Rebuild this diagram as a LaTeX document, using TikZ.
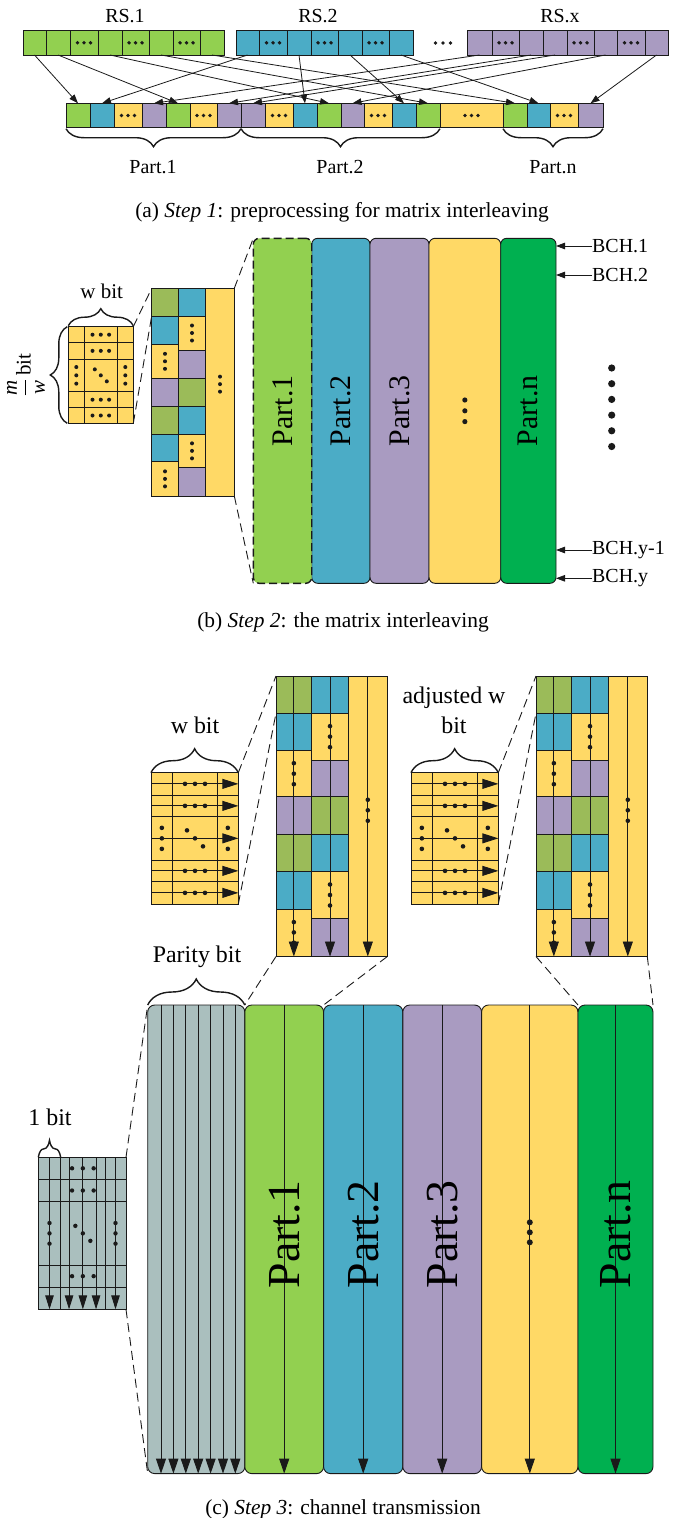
\documentclass[tikz,border=0pt]{standalone}
\usepackage{fontspec}
\setmainfont{Liberation Serif}
\usetikzlibrary{arrows.meta,decorations.pathreplacing}
\definecolor{cg}{HTML}{92D050}
\definecolor{cb}{HTML}{4BACC6}
\definecolor{cp}{HTML}{A99BC1}
\definecolor{cy}{HTML}{FFD966}
\definecolor{cd}{HTML}{00B050}
\definecolor{co}{HTML}{9BBB59}
\definecolor{cgr}{HTML}{AABFBE}
\definecolor{ln}{HTML}{1A1A1A}
\tikzset{
 cellst/.style={draw=ln,line width=0.9bp,inner sep=0pt,outer sep=0pt,anchor=north west},
 arr/.style={draw=ln,line width=0.8bp,-{Triangle[length=9bp,width=6.5bp]}},
 harr/.style={draw=ln,line width=0.9bp,-{Triangle[length=16bp,width=10bp]}},
 varr/.style={draw=ln,line width=0.9bp,-{Triangle[length=15bp,width=10bp]}},
 sarr/.style={draw=ln,line width=0.9bp,-{Triangle[length=14bp,width=8.5bp]}},
 brc/.style={draw=ln,line width=1.4bp,decorate},
 dsh/.style={draw=ln,line width=0.9bp,dash pattern=on 9bp off 5bp},
 bigcol/.style={draw=ln,line width=0.9bp,rounded corners=6bp,inner sep=0pt,outer sep=0pt,anchor=north west},
 lbl/.style={inner sep=0pt,font=\fontsize{20}{24}\selectfont},
 lblc/.style={inner sep=0pt,font=\fontsize{24}{29}\selectfont,align=center},
 captxt/.style={inner sep=0pt,font=\fontsize{21.5}{26}\selectfont},
 rtxt/.style={rotate=90,inner sep=0pt,font=\fontsize{30}{30}\selectfont},
 rtxtc/.style={rotate=90,inner sep=0pt,font=\fontsize{46}{46}\selectfont},
}
\newcommand{\hd}[3]{\fill[ln] ([xshift=-#2]#1) circle (#3) (#1) circle (#3) ([xshift=#2]#1) circle (#3);}
\newcommand{\vd}[3]{\fill[ln] ([yshift=#2]#1) circle (#3) (#1) circle (#3) ([yshift=-#2]#1) circle (#3);}
\newcommand{\dd}[3]{\fill[ln] ([xshift=-#2,yshift=#2]#1) circle (#3) (#1) circle (#3) ([xshift=#2,yshift=-#2]#1) circle (#3);}
\newcommand{\cel}[7]{\node[cellst,fill=#6,minimum width={(#4-#2)*1bp},minimum height={(#5-#3)*1bp}] (#1) at (#2,#3) {#7};}
\begin{document}
\begin{tikzpicture}[x=1bp,y=-1bp]
\useasboundingbox (0,0) rectangle (683,1518);
%% ================= (a) =================
\foreach \i/\xa/\xb/\c/\d in {1/23/46/cg/0,2/46/70/cg/0,3/70/98/cg/1,4/98/122/cg/0,5/122/149/cg/1,6/149/173/cg/0,7/173/200/cg/1,8/200/224/cg/0}
 {\cel{a\i}{\xa}{30.7}{\xb}{55}{\c}{}\ifnum\d=1 \hd{a\i.center}{6.5bp}{1.9bp}\fi}
\foreach \i/\xa/\xb/\c/\d in {1/236/259/cb/0,2/259/287/cb/1,3/287/311/cb/0,4/311/338/cb/1,5/338/362/cb/0,6/362/389/cb/1,7/389/413/cb/0}
 {\cel{b\i}{\xa}{30.7}{\xb}{55}{\c}{}\ifnum\d=1 \hd{b\i.center}{6.5bp}{1.9bp}\fi}
\foreach \i/\xa/\xb/\c/\d in {1/467/492/cp/0,2/492/519/cp/1,3/519/543/cp/0,4/543/567/cp/0,5/567/594/cp/1,6/594/617/cp/0,7/617/645/cp/1,8/645/668/cp/0}
 {\cel{c\i}{\xa}{30.7}{\xb}{55}{\c}{}\ifnum\d=1 \hd{c\i.center}{6.5bp}{1.9bp}\fi}
\foreach \i/\xa/\xb/\c/\d in {1/66/90/cg/0,2/90/114/cb/0,3/114/142/cy/1,4/142/166/cp/0,5/166/190/cg/0,6/190/217/cy/1,7/217/241/cp/0,8/241/265/cp/0,9/265/293/cy/1,10/293/317/cb/0,11/317/341/cg/0,12/341/364/cp/0,13/364/392/cy/1,14/392/416/cb/0,15/416/440/cg/0,16/440/503/cy/1,17/503/527/cg/0,18/527/550/cb/0,19/550/578/cy/1,20/578/603/cp/0}
 {\cel{d\i}{\xa}{103.3}{\xb}{127.7}{\c}{}\ifnum\d=1 \hd{d\i.center}{6.5bp}{1.9bp}\fi}
\foreach \s/\t in {a1/d1,a2/d5,a4/d11,a6/d15,a8/d17,b1/d2,b3/d10,b5/d14,b7/d18,c1/d4,c3/d7,c4/d8,c6/d12,c8/d20}
 \draw[arr] (\s.south) -- (\t.north);
\node[lbl] (rs1) at (125,16) {RS.1};
\node[lbl] (rs2) at (318,16) {RS.2};
\node[lbl] (rsx) at (560,16) {RS.x};
\coordinate (gapa) at (443,43);
\hd{gapa}{7.5bp}{1.9bp}
\draw[brc,decoration={brace,mirror,amplitude=18bp}] ([yshift=-1bp]d1.south west) -- ([yshift=-1bp]d7.south east);
\draw[brc,decoration={brace,mirror,amplitude=18bp}] ([yshift=-1bp]d8.south west) -- ([yshift=-1bp]d15.south east);
\draw[brc,decoration={brace,mirror,amplitude=18bp}] ([yshift=-1bp]d17.south west) -- ([yshift=-1bp]d20.south east);
\node[lbl] (p1a) at (153,167) {Part.1};
\node[lbl] (p2a) at (340,167) {Part.2};
\node[lbl] (pna) at (553,167) {Part.n};
\node[captxt] (capa) at (342,212) {(a) \textit{Step 1}: preprocessing for matrix interleaving};
%% ================= (b) =================
\foreach \r/\ya/\yb in {1/326.7/342.7,2/342.7/359,3/359/391.7,4/391.7/407.7,5/407.7/423.3}
 \foreach \c/\xa/\xb in {1/68.3/84.3,2/84.3/117.3,3/117.3/133.3}
  {\cel{sb\r\c}{\xa}{\ya}{\xb}{\yb}{cy}{}}
\hd{sb12.center}{8.3bp}{2bp}
\hd{sb22.center}{8.3bp}{2bp}
\vd{sb31.center}{8.3bp}{2bp}
\dd{sb32.center}{6bp}{2bp}
\vd{sb33.center}{8.3bp}{2bp}
\hd{sb42.center}{8.3bp}{2bp}
\hd{sb52.center}{8.3bp}{2bp}
\draw[brc,decoration={brace,amplitude=17bp}] ([yshift=1bp]sb11.north west) -- ([yshift=1bp]sb13.north east);
\draw[brc,decoration={brace,amplitude=17bp}] ([xshift=-1bp]sb51.south west) -- ([xshift=-1bp]sb11.north west);
\node[lbl,font=\fontsize{21}{25}\selectfont] (wb) at (101.7,291) {w bit};
\node[rotate=90,inner sep=0pt,font=\fontsize{21}{25}\selectfont] (mw) at (26,375) {$\displaystyle\frac{\textit{m}}{\textit{w}}$\,bit};
\foreach \i/\xa/\ya/\xb/\yb/\c in {1/151.7/288.3/178.3/316/co,2/151.7/316/178.3/344.3/cb,3/151.7/344.3/178.3/378.3/cy,4/151.7/378.3/178.3/406/cp,5/151.7/406/178.3/434/co,6/151.7/434/178.3/461.7/cb,7/151.7/461.7/178.3/496/cy,8/178.3/288.3/205.7/316/cb,9/178.3/316/205.7/350/cy,10/178.3/350/205.7/378.3/cp,11/178.3/378.3/205.7/406/co,12/178.3/406/205.7/434/cb,13/178.3/434/205.7/467.7/cy,14/178.3/467.7/205.7/496/cp,15/205.7/288.3/234.3/496/cy}
 {\cel{mb\i}{\xa}{\ya}{\xb}{\yb}{\c}{}}
\vd{mb3.center}{7.5bp}{2bp}
\vd{mb7.center}{7.5bp}{2bp}
\vd{mb9.center}{7.5bp}{2bp}
\vd{mb13.center}{7.5bp}{2bp}
\coordinate (mbd) at ([yshift=8bp]mb15.center);
\vd{mbd}{7.5bp}{2bp}
\draw[dsh] (sb13.north east) -- (mb1.north west);
\draw[dsh] (sb53.south east) -- (mb1.south west);
\node[bigcol,fill=cb,minimum width=58.3bp,minimum height=345bp] (pb2) at (311.7,238.3) {};
\node[bigcol,fill=cp,minimum width=59bp,minimum height=345bp] (pb3) at (370,238.3) {};
\node[bigcol,fill=cy,minimum width=71.7bp,minimum height=345bp] (pb4) at (429,238.3) {};
\node[bigcol,fill=cd,minimum width=55.3bp,minimum height=345bp] (pbn) at (500.7,238.3) {};
\node[bigcol,fill=cg,minimum width=58.4bp,minimum height=345bp,line width=1.4bp,dash pattern=on 8bp off 4bp] (pb1) at (253.3,238.3) {};
\draw[dsh] (mb15.north east) -- (pb1.north west);
\draw[dsh] (mb15.south east) -- (pb1.south west);
\node[rtxt] (tb1) at (pb1.center) {Part.1};
\node[rtxt] (tb2) at (pb2.center) {Part.2};
\node[rtxt] (tb3) at (pb3.center) {Part.3};
\node[rtxt] (tbn) at (pbn.center) {Part.n};
\vd{pb4.center}{10.8bp}{2.6bp}
\foreach \n/\yy/\tt in {1/246/BCH.1,2/275/BCH.2,3/550/BCH.y-1,4/578.3/BCH.y}
 {\node[lbl,anchor=west] (bch\n) at (592,\yy) {\tt};
  \draw[arr] (bch\n.west) -- (bch\n.west -| pbn.east);}
\foreach \k in {0,...,5} \fill[ln] (611.7,{368+15.7*\k}) circle (3.6bp);
\node[captxt] (capb) at (343,622) {(b) \textit{Step 2}: the matrix interleaving};
%% ================= (c) =================
\foreach \g/\o in {g/0,h/260}{
 \begin{scope}[xshift=\o bp]
 \foreach \r/\ya/\yb in {1/772.7/795,2/795/816.7,3/816.7/860,4/860/881.7,5/881.7/904}
  \foreach \c/\xa/\xb in {1/151/172.7,2/172.7/217.3,3/217.3/238.3}
   {\cel{\g s\r\c}{\xa}{\ya}{\xb}{\yb}{cy}{}}
 \hd{\g s12.center}{10bp}{2.3bp}
 \hd{\g s22.center}{10bp}{2.3bp}
 \vd{\g s31.center}{10.5bp}{2.3bp}
 \dd{\g s32.center}{8bp}{2.3bp}
 \vd{\g s33.center}{10.5bp}{2.3bp}
 \hd{\g s42.center}{10bp}{2.3bp}
 \hd{\g s52.center}{10bp}{2.3bp}
 \foreach \r in {1,...,5} \draw[harr] (\g s\r1.west) -- (\g s\r3.east);
 \draw[brc,decoration={brace,amplitude=24bp}] (\g s11.north west) -- (\g s13.north east);
 \foreach \i/\xa/\ya/\xb/\yb/\c in {1/276/676/311.7/713.3/co,2/276/713.3/311.7/750.7/cb,3/276/750.7/311.7/796.7/cy,4/276/796.7/311.7/834/cp,5/276/834/311.7/871.7/co,6/276/871.7/311.7/909.3/cb,7/276/909.3/311.7/956.5/cy,8/311.7/676/348.3/713.3/cb,9/311.7/713.3/348.3/760/cy,10/311.7/760/348.3/796.7/cp,11/311.7/796.7/348.3/834/co,12/311.7/834/348.3/871.7/cb,13/311.7/871.7/348.3/918.3/cy,14/311.7/918.3/348.3/956.5/cp,15/348.3/676/387.3/956.5/cy}
  {\cel{\g m\i}{\xa}{\ya}{\xb}{\yb}{\c}{}}
 \draw[varr] (\g m1.north) -- (\g m7.south);
 \draw[varr] (\g m8.north) -- (\g m14.south);
 \draw[varr] (\g m15.north) -- (\g m15.south);
 \vd{\g m3.center}{10.5bp}{2.3bp}
 \coordinate (\g d7) at ([yshift=0.5bp]\g m7.center);
 \vd{\g d7}{10.3bp}{2.3bp}
 \vd{\g m9.center}{10.5bp}{2.3bp}
 \vd{\g m13.center}{10.5bp}{2.3bp}
 \coordinate (\g d15) at ([yshift=6bp]\g m15.center);
 \vd{\g d15}{10.5bp}{2.3bp}
 \draw[dsh] (\g s13.north east) -- (\g m1.north west);
 \draw[dsh] (\g s53.south east) -- (\g m1.south west);
 \end{scope}}
\node[lblc] (wbc) at (195,725) {w bit};
\node[lblc,font=\fontsize{24}{30}\selectfont] (awb) at (454,710) {adjusted w\\bit};
% big columns
\node[bigcol,fill=cgr,minimum width=97.1bp,minimum height=468.6bp,rounded corners=7bp] (par) at (147.7,1005) {};
\node[bigcol,fill=cg,minimum width=78.8bp,minimum height=468.6bp,rounded corners=7bp] (q1) at (244.8,1005) {};
\node[bigcol,fill=cb,minimum width=79.2bp,minimum height=468.6bp,rounded corners=7bp] (q2) at (323.6,1005) {};
\node[bigcol,fill=cp,minimum width=78.8bp,minimum height=468.6bp,rounded corners=7bp] (q3) at (402.8,1005) {};
\node[bigcol,fill=cy,minimum width=96.4bp,minimum height=468.6bp,rounded corners=7bp] (q4) at (481.6,1005) {};
\node[bigcol,fill=cd,minimum width=75bp,minimum height=468.6bp,rounded corners=7bp] (qn) at (578,1005) {};
\foreach \dx in {13.3,25.7,38.1,50.5,62.9,75.3,87.6}
 \draw[varr] ([xshift=\dx bp]par.north west) -- ([xshift=\dx bp]par.south west);
\foreach \q in {q1,q2,q3,q4,qn}
 \draw[varr] (\q.north) -- (\q.south);
\node[rtxtc] (tc1) at ([yshift=5bp]q1.center) {Part.1};
\node[rtxtc] (tc2) at ([yshift=5bp]q2.center) {Part.2};
\node[rtxtc] (tc3) at ([yshift=5bp]q3.center) {Part.3};
\node[rtxtc] (tcn) at ([yshift=5bp]qn.center) {Part.n};
\coordinate (q4d) at ([yshift=7bp]q4.center);
\vd{q4d}{10bp}{3bp}
\draw[brc,decoration={brace,amplitude=26bp}] (par.north west) -- (par.north east);
\node[lblc] (parl) at (197,956.5) {Parity bit};
\draw[dsh] (gm7.south west) -- (q1.north west);
\draw[dsh] (gm15.south east) -- (q1.north east);
\draw[dsh] (hm7.south west) -- (qn.north west);
\draw[dsh] (hm15.south east) -- (qn.north east);
% 1 bit matrix
\foreach \r/\ya/\yb in {1/1157.3/1179.3,2/1179.3/1201.7,3/1201.7/1265,4/1265/1287.3,5/1287.3/1309.3}
 \foreach \c/\xa/\xb in {1/38.3/60.7,2/60.7/105,3/105/126}
  {\cel{o\r\c}{\xa}{\ya}{\xb}{\yb}{cgr}{}}
\draw[sarr] (o11.north) -- (o51.south);
\draw[sarr] ([xshift=-13.8bp]o12.north) -- ([xshift=-13.8bp]o52.south);
\draw[sarr] (o12.north) -- (o52.south);
\draw[sarr] ([xshift=13.2bp]o12.north) -- ([xshift=13.2bp]o52.south);
\draw[sarr] (o13.north) -- (o53.south);
\hd{o12.center}{10.8bp}{2.2bp}
\hd{o22.center}{10.8bp}{2.2bp}
\vd{o31.center}{10.3bp}{2.2bp}
\dd{o32.center}{7.5bp}{2.2bp}
\vd{o33.center}{10.3bp}{2.2bp}
\hd{o42.center}{10.8bp}{2.2bp}
\draw[brc,decoration={brace,amplitude=17bp}] (o11.north west) -- (o11.north east);
\node[lblc] (onebit) at (50,1117.3) {1 bit};
\draw[dsh] (o13.north east) -- (par.north west);
\draw[dsh] (o53.south east) -- (par.south west);
\node[captxt] (capc) at (343,1509) {(c) \textit{Step 3}: channel transmission};
\end{tikzpicture}
\end{document}
